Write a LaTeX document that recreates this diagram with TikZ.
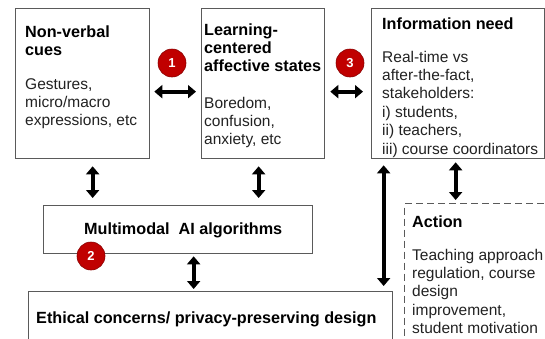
\documentclass[tikz,border=0pt]{standalone}
\usepackage{fontspec}
\setmainfont{Liberation Sans}
\usetikzlibrary{arrows.meta}
\definecolor{txt}{HTML}{222222}
\definecolor{edge}{HTML}{5A5A5A}
\definecolor{badge}{HTML}{C00000}
\definecolor{badgerim}{HTML}{8A0000}
\begin{document}
\begin{tikzpicture}[x=1pt,y=-1pt,
  box/.style={draw=edge, line width=1.3pt, inner sep=0pt, anchor=north west},
  dbox/.style={box, dash pattern=on 7pt off 4pt},
  lbl/.style={inner sep=0pt, anchor=base west, align=left, text=txt, font=\fontsize{15.5}{18.4}\selectfont},
  ttl/.style={lbl, text=black, font=\fontsize{16.2}{18.4}\selectfont\bfseries},
  dbl/.style={line width=4.2pt, black, {Triangle[width=13pt,length=8pt]}-{Triangle[width=13pt,length=8pt]}},
  num/.style={circle, fill=badge, draw=badgerim, line width=0.6pt, text=white, font=\fontsize{13}{13}\selectfont\bfseries, minimum size=28pt, inner sep=0pt}
]
\clip (0,0) rectangle (545,338);
\fill[white] (0,0) rectangle (545,338);

% boxes
\node[box, minimum width=134pt, minimum height=150pt] (b1) at (15,8) {};
\node[box, minimum width=123pt, minimum height=150pt] (b2) at (201,8) {};
\node[box, minimum width=173pt, minimum height=150pt] (b3) at (371,8) {};
\node[box, minimum width=269pt, minimum height=48pt] (mm) at (43,205) {};
\node[box, minimum width=364pt, minimum height=60pt] (eth) at (28,291) {};
\node[dbox, minimum width=160pt, minimum height=160pt] (act) at (404,203) {};

% texts (anchor = baseline of the last line)
\node[ttl] (t1) at (25,55.4) {Non-verbal\\cues};
\node[lbl] (d1) at (25,125.8) {Gestures,\\micro/macro\\expressions, etc};
\node[ttl] (t2) at (204,71.8) {Learning-\\centered\\affective states};
\node[lbl] (d2) at (204,144.8) {Boredom,\\confusion,\\anxiety, etc};
\node[ttl] (t3) at (382,29) {Information need};
\node[lbl] (d3) at (382,154) {Real-time vs\\after-the-fact,\\stakeholders:\\i) students,\\ii) teachers,\\iii) course coordinators};
\node[ttl] (tm) at (84,234) {Multimodal\ \ AI algorithms};
\node[ttl] (te) at (36,323) {Ethical concerns/ privacy-preserving design};
\node[ttl] (ta) at (412,227) {Action};
\node[lbl] (da) at (412,333.6) {Teaching approach\\regulation, course\\design\\improvement,\\student motivation};

% connectors
\draw[dbl] ([shift={(4,8)}]b1.east) -- ([shift={(-5,8)}]b2.west);
\draw[dbl] ([shift={(5,8)}]b2.east) -- ([shift={(-8,8)}]b3.west);
\draw[dbl] ([shift={(10,7)}]b1.south) -- ([shift={(-85.5,-7)}]mm.north);
\draw[dbl] ([shift={(-4.5,7)}]b2.south) -- ([shift={(80.5,-7)}]mm.north);
\draw[dbl] ([shift={(15.5,2)}]mm.south) -- ([shift={(-17,-2)}]eth.north);
\draw[dbl] ([shift={(-74.5,6)}]b3.south) -- ([shift={(173,-5)}]eth.north);
\draw[dbl] ([shift={(-2.5,3)}]b3.south) -- ([shift={(-29,-3)}]act.north);

% badges
\node[num] (n1) at (172,63) {1};
\node[num] (n3) at (350,63) {3};
\node[num] (n2) at (91,256) {2};
\end{tikzpicture}
\end{document}
